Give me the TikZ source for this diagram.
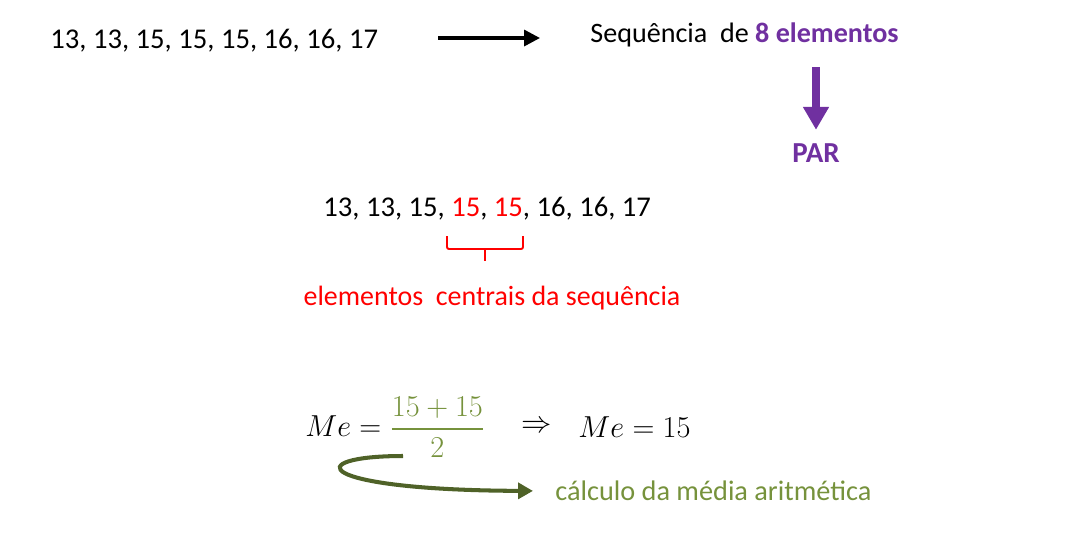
\documentclass[tikz,border=0pt]{standalone}
\usepackage{amsmath}
\usepackage{fontspec}
\setmainfont{Carlito}
\usetikzlibrary{arrows.meta}
\definecolor{roxo}{RGB}{112,48,160}
\definecolor{vermelho}{RGB}{255,0,0}
\definecolor{verde}{RGB}{118,146,60}
\definecolor{verdeescuro}{RGB}{79,98,40}
\tikzstyle{texto} = [inner sep=0pt, font=\fontsize{16.3}{20}\selectfont]
\tikzstyle{formula} = [inner sep=0pt, font=\fontsize{16.5}{20}\selectfont]
\tikzstyle{seta} = [line width=1.9pt, -{Triangle[length=9pt, width=9pt]}]
\tikzstyle{setagrossa} = [draw=roxo, line width=4.5pt, -{Triangle[length=13pt, width=14pt]}]
\tikzstyle{setacurva} = [draw=verdeescuro, line width=2.3pt, -{Triangle[length=8.5pt, width=9pt]}]
\tikzstyle{chave} = [draw=vermelho, line width=1.1pt, rounded corners=0.04cm]

\begin{document}
\begin{tikzpicture}[x=0.02cm, y=-0.02cm]
     \useasboundingbox (0, 0) rectangle (1092, 532);
     \node (seq1) at (50, 41) [texto, anchor=west] {13,\ 13,\ 15,\ 15,\ 15,\ 16,\ 16,\ 17};
     \node (desc) at (590, 35) [texto, anchor=west, font=\fontsize{16}{20}\selectfont]
           {Sequência\ \ de {\color{roxo}\bfseries 8 elementos}};
     \node (par) at (816, 153) [texto, text=roxo, font=\fontsize{16.5}{20}\selectfont\bfseries] {PAR};
     \draw[seta] ([yshift=0.06cm]seq1.east) -- ([yshift=0.06cm]seq1.east -| desc.west)
           [shorten <=1.2cm, shorten >=1cm];
     \draw[setagrossa, shorten <=0.4cm, shorten >=0.27cm] (par.north |- desc.south) -- (par.north);
     % sequencia ordenada
     \node (seq2) at (323, 209) [texto, anchor=west]
           {13,\ 13,\ 15,\ {\color{vermelho}15},\ {\color{vermelho}15},\ 16,\ 16,\ 17};
     \coordinate (b1) at (447, 236);
     \coordinate (b2) at (523, 236);
     \coordinate (bm) at (485, 249);
     \draw[chave] (b1) |- (bm) -| (b2);
     \draw[chave] (bm) -- ++(0, 12);
     \node (central) at (492, 298) [texto, text=vermelho, font=\fontsize{15.9}{20}\selectfont]
           {elementos\ \ centrais da sequência};
     % mediana
     \node (eq1) at (305, 427) [formula, anchor=west] {$Me = \textcolor{verde}{\dfrac{15+15}{2}}$};
     \node (implica) at (537, 427) [formula] {$\Rightarrow$};
     \node (eq2) at (578, 427) [formula, anchor=west] {$Me = 15$};
     \node (calc) at (555, 491) [texto, anchor=west, text=verde, font=\fontsize{16.1}{20}\selectfont]
           {cálculo da média aritmética};
     \coordinate (ini) at (403, 456);
     \draw[setacurva, shorten >=0.44cm] (ini) .. controls (300, 456) and (312, 490) .. (calc.west);
\end{tikzpicture}
\end{document}
